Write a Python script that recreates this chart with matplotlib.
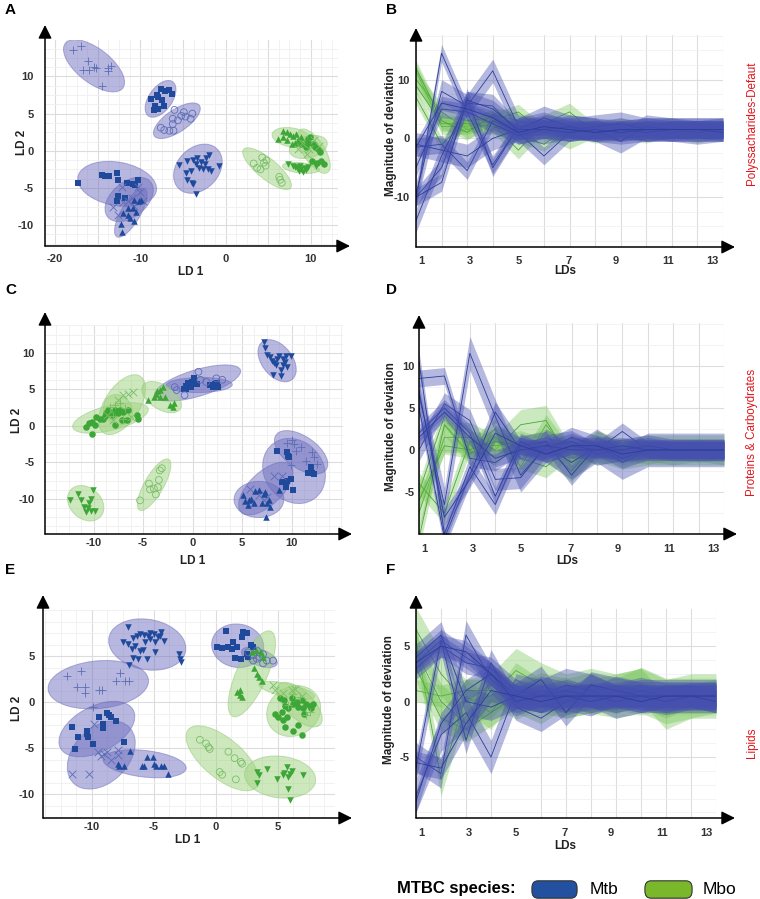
import numpy as np
import matplotlib.pyplot as plt
from matplotlib.patches import Ellipse, FancyBboxPatch
from matplotlib.ticker import MultipleLocator

plt.rcParams['font.family'] = ['Liberation Sans', 'DejaVu Sans']
plt.rcParams['axes.unicode_minus'] = False

# ---------------- scatter data (LD1, LD2) ----------------
# panel A - Polysaccharides
A_MTB_PLUS_X = [-17.9, -17.0, -16.2, -16.0, -16.7, -15.4, -15.2, -13.8, -13.8, -13.4, -14.5]
A_MTB_PLUS_Y = [13.5, 14.1, 12.1, 10.9, 10.9, 11.3, 11.1, 10.7, 11.1, 11.4, 8.7]
A_MTB_SQ1_X = [-8.8, -8.0, -7.6, -7.1, -6.6, -6.3, -7.9, -7.5, -8.3, -7.9, -7.2, -8.4]
A_MTB_SQ1_Y = [7.0, 7.5, 8.3, 8.1, 8.2, 7.6, 7.2, 6.8, 6.0, 5.6, 6.0, 5.5]
A_MTB_OC_X = [-7.6, -7.2, -6.6, -6.1, -6.2, -5.6, -5.2, -4.7, -4.1, -3.9, -6.0, -4.9, -6.2]
A_MTB_OC_Y = [3.1, 2.8, 2.7, 2.7, 3.6, 4.1, 4.7, 4.6, 4.3, 5.0, 5.5, 5.2, 4.3]
A_MTB_DN_X = [-5.5, -4.7, -4.5, -3.9, -3.8, -3.3, -2.9, -2.4, -1.9, -2.3, -3.1, -2.7, -2.1,
              -1.7, -0.8, -3.5, -4.1, -3.5, -4.5, -3.8]
A_MTB_DN_Y = [-1.9, -3.0, -3.9, -4.3, -1.3, -0.9, -1.5, -1.8, -0.5, -0.9, -2.3, -2.5, -2.5,
              -2.7, -2.0, -5.8, -2.7, -1.8, -1.4, -4.5]
A_MTB_SQ2_X = [-17.3, -14.5, -14.1, -13.7, -12.8, -12.6, -11.6, -10.9, -10.6, -10.3, -12.6, -11.8, -12.7]
A_MTB_SQ2_Y = [-4.3, -3.3, -3.4, -3.4, -3.0, -3.9, -4.3, -4.4, -4.6, -3.9, -6.1, -6.4, -6.8]
A_MTB_X_X = [-13.2, -12.2, -11.4, -10.7, -10.3, -10.1, -11.0, -12.0, -9.7, -12.6]
A_MTB_X_Y = [-7.5, -4.8, -6.8, -7.4, -4.8, -5.5, -6.3, -6.9, -6.8, -8.6]
A_MTB_UP_X = [-12.3, -12.2, -12.0, -11.5, -11.2, -10.9, -10.7, -10.2, -9.9, -10.7, -11.4, -10.5]
A_MTB_UP_Y = [-9.8, -10.9, -8.4, -8.6, -9.1, -7.7, -6.6, -6.8, -6.6, -9.5, -7.7, -8.2]
A_MBO_OC_X = [3.3, 4.3, 4.5, 4.7, 4.1, 3.7, 6.4, 6.6, 6.3, 4.8]
A_MBO_OC_Y = [-1.7, -0.9, -1.6, -2.0, -2.5, -2.3, -3.9, -4.3, -3.5, -1.3]
A_MBO_UP_X = [6.2, 6.7, 7.2, 7.6, 7.9, 8.3, 8.9, 7.2, 7.8, 8.5, 9.5, 6.8, 8.1]
A_MBO_UP_Y = [1.6, 2.7, 2.5, 2.3, 2.0, 2.3, 1.8, 1.4, 0.9, 1.4, 1.6, 1.8, 1.1]
A_MBO_DOT_X = [8.9, 9.5, 9.9, 10.5, 10.9, 11.1, 10.1, 10.7, 11.2, 11.6, 10.3, 9.7]
A_MBO_DOT_Y = [0.9, 0.5, 1.8, 0.5, 0.2, -0.2, -1.4, -1.6, -1.4, -1.8, 0.9, 1.1]
A_MBO_DN_X = [7.3, 7.9, 8.4, 8.7, 8.9, 9.3, 9.7, 8.6, 9.1, 8.1, 9.5, 10.6]
A_MBO_DN_Y = [-1.8, -2.0, -2.3, -2.0, -2.5, -2.3, -2.2, -2.7, -2.8, -2.2, -2.6, -2.1]
A_MBO_X_X = [9.0, 9.8, 10.4, 11.0, 8.5, 9.6]
A_MBO_X_Y = [1.0, 0.3, 1.4, 0.6, 0.2, -0.4]

# panel C - Proteins & Carbohydrates
C_MTB_DN_X = [7.2, 7.3, 7.5, 7.8, 8.0, 8.2, 8.5, 8.7, 9.1, 9.3, 9.5, 8.9, 8.4, 8.1, 8.9, 9.4, 9.9, 9.1]
C_MTB_DN_Y = [11.5, 10.6, 9.7, 9.4, 8.9, 8.6, 9.2, 9.6, 9.2, 8.7, 8.1, 7.6, 8.3, 6.9, 6.8, 9.5, 9.5, 8.3]
C_MTB_SQ1_X = [-0.9, -0.7, -0.5, -0.1, 0.1, 0.5, -0.2, -0.7, 1.8, 2.1, 2.5, 2.6, 2.3]
C_MTB_SQ1_Y = [5.1, 5.5, 5.8, 6.0, 6.6, 5.7, 5.3, 5.0, 5.6, 5.3, 5.8, 5.3, 5.7]
C_MTB_OC_X = [-1.8, -0.8, 0.6, 0.8, 2.4, 3.0, 1.4, -1.6]
C_MTB_OC_Y = [5.3, 4.2, 7.4, 6.3, 6.5, 6.3, 6.0, 4.9]
C_MTB_SQ2_X = [8.5, 9.5, 9.6, 9.7, 12.0, 12.1, 11.7, 12.3, 9.0, 9.5, 9.9, 10.1, 9.4]
C_MTB_SQ2_Y = [-3.5, -3.6, -4.1, -4.2, -5.6, -6.4, -6.5, -6.6, -7.7, -7.5, -7.3, -8.8, -8.4]
C_MTB_PLUS_X = [9.5, 10.0, 10.3, 11.0, 12.1, 12.3, 12.6, 9.9, 10.5, 11.5]
C_MTB_PLUS_Y = [-2.3, -2.0, -2.5, -2.9, -3.6, -4.2, -5.2, -5.3, -3.4, -4.8]
C_MTB_X_X = [5.8, 8.2, 9.0, 7.2, 7.5, 6.7]
C_MTB_X_Y = [-8.6, -6.8, -6.8, -10.2, -9.7, -9.4]
C_MTB_UP_X = [5.1, 5.3, 5.7, 5.9, 6.3, 6.7, 7.2, 7.3, 7.5, 7.8, 7.7, 7.0, 6.2, 8.7, 7.4, 5.6]
C_MTB_UP_Y = [-9.4, -10.3, -10.2, -10.0, -8.9, -8.8, -9.3, -9.0, -10.6, -11.1, -10.2, -10.6, -10.6,
              -8.8, -12.5, -10.9]
C_MBO_DOT_X = [-10.8, -10.5, -10.2, -9.8, -10.2, -9.7, -9.3, -8.8, -8.7, -8.1, -7.8, -7.5, -7.3,
               -7.0, -6.5, -7.1, -6.6, -5.6, -5.5, -7.8, -9.0, -8.5]
C_MBO_DOT_Y = [-0.1, 0.4, 0.5, 0.1, -1.1, 1.2, 1.0, 1.3, 1.7, 1.5, 0.1, 1.7, 2.1, 1.9, 2.2, 0.8,
               0.8, 1.5, 1.0, 2.1, 1.0, 2.1]
C_MBO_X_X = [-7.0, -6.5, -6.0, -7.5, -8.6, -8.0, -6.2]
C_MBO_X_Y = [4.2, 4.4, 4.7, 3.5, 1.5, 0.8, 1.2]
C_MBO_PLUS_X = [-8.3, -7.8, -7.3, -6.8, -7.0, -8.0]
C_MBO_PLUS_Y = [2.6, 2.8, 3.1, 2.4, 1.0, 1.3]
C_MBO_UP_X = [-4.5, -3.9, -3.7, -3.3, -3.0, -3.3, -2.8, -2.3, -2.0, -1.9, -3.6]
C_MBO_UP_Y = [3.5, 4.0, 4.3, 4.9, 5.3, 4.0, 3.9, 2.8, 2.6, 3.1, 4.8]
C_MBO_OC_X = [-5.3, -4.4, -4.3, -3.9, -3.5, -3.4, -3.3, -3.1, -3.7]
C_MBO_OC_Y = [-10.2, -7.9, -8.7, -8.6, -8.4, -7.4, -6.1, -5.8, -9.4]
C_MBO_DN_X = [-12.4, -11.6, -11.3, -11.0, -10.8, -10.5, -10.3, -10.1, -9.8, -10.3, -10.6]
C_MBO_DN_Y = [-10.2, -9.3, -10.2, -11.1, -11.8, -10.6, -10.0, -8.8, -11.6, -11.6, -11.3]

# panel E - Lipids
E_MTB_DN_X = [-7.1, -7.5, -7.1, -6.7, -6.4, -6.1, -5.8, -5.5, -5.3, -5.0, -4.7, -4.5, -4.4, -4.2, -4.9,
              -5.7, -6.5, -6.8, -6.1, -5.9, -6.7, -6.3, -7.0, -5.6, -4.9, -3.0, -2.9, -2.8, -5.3]
E_MTB_DN_Y = [8.1, 6.5, 6.3, 7.0, 7.2, 7.4, 7.3, 7.2, 7.5, 7.4, 7.1, 7.2, 7.6, 6.6, 6.5,
              6.5, 6.1, 5.8, 5.5, 5.7, 4.8, 4.7, 4.0, 4.7, 5.4, 5.2, 4.7, 4.3, 6.9]
E_MTB_PLUS_X = [-12.0, -10.9, -11.2, -10.6, -10.6, -9.4, -9.2, -8.1, -7.7, -7.3, -7.0, -9.9]
E_MTB_PLUS_Y = [2.8, 3.4, 1.6, 1.6, 1.0, 1.3, 1.3, 2.3, 3.2, 2.3, 2.3, -0.5]
E_MTB_SQ1_X = [-11.6, -11.1, -11.4, -10.4, -10.3, -9.9, -9.4, -9.1, -9.1, -8.8, -8.6, -8.1, -8.5, -7.4, -10.4]
E_MTB_SQ1_Y = [-2.7, -3.8, -5.1, -3.2, -3.8, -4.6, -1.6, -2.4, -2.8, -1.2, -1.4, -2.1, -1.6, -4.3, -3.5]
E_MTB_X_X = [-11.6, -10.2, -9.8, -9.5, -9.3, -9.0, -8.8, -8.5, -7.9, -7.9]
E_MTB_X_Y = [-7.8, -7.8, -2.4, -5.4, -5.9, -5.6, -5.4, -6.3, -5.2, -5.8]
E_MTB_UP_X = [-7.9, -7.8, -7.4, -6.9, -6.0, -5.8, -5.6, -5.1, -5.0, -4.8, -4.4, -4.2, -3.9]
E_MTB_UP_Y = [-6.7, -7.0, -6.9, -5.3, -6.9, -7.0, -6.0, -6.0, -6.7, -7.0, -7.0, -6.9, -7.8]
E_MTB_SQ2_X = [0.1, 0.5, 0.8, 1.0, 1.3, 1.4, 1.5, 1.7, 2.0, 2.1, 2.2, 2.5, 2.8, 3.0, 2.5, 2.6]
E_MTB_SQ2_Y = [6.0, 5.9, 7.7, 6.0, 5.8, 6.5, 4.8, 6.0, 4.7, 7.1, 7.6, 7.5, 6.2, 6.0, 5.2, 4.9]
E_MTB_OC_X = [2.6, 3.0, 3.3, 3.5, 3.8, 4.1, 4.6, 3.3, 3.8, 3.0]
E_MTB_OC_Y = [5.4, 5.1, 4.7, 4.9, 5.2, 4.5, 4.5, 5.6, 4.2, 4.5]
E_MBO_UP_X = [1.7, 1.9, 2.1, 1.9, 3.1, 3.3, 3.5, 3.7, 3.2, 3.6, 3.8, 2.9]
E_MBO_UP_Y = [1.1, 0.8, 0.6, 1.3, 3.7, 3.0, 2.7, 2.3, 5.6, 5.4, 4.9, 5.4]
E_MBO_DOT_X = [5.2, 5.5, 5.6, 5.8, 6.1, 6.2, 6.5, 6.6, 6.9, 7.0, 7.3, 7.6, 7.8, 7.7, 4.8, 5.0, 5.3,
               5.4, 5.6, 6.2, 6.6, 6.9, 5.7, 7.1]
E_MBO_DOT_Y = [0.4, 0.2, -0.4, -0.7, 0.4, -0.2, 0.0, -0.5, 0.2, -0.7, -0.2, -0.4, -0.2, -0.6, -1.3,
               -1.6, -1.1, -2.0, -2.7, -3.1, -2.5, -3.6, -1.6, -1.3]
E_MBO_X_X = [4.6, 4.8, 5.4, 6.1, 6.4, 6.9]
E_MBO_X_Y = [1.9, 1.3, 1.0, 1.3, 1.4, 0.7]
E_MBO_PLUS_X = [6.2, 6.8, 7.3, 7.6, 5.8]
E_MBO_PLUS_Y = [0.9, 0.5, -1.4, -1.1, -0.3]
E_MBO_OC_X = [-1.3, -0.8, -0.6, -0.5, 1.0, 1.5, 2.0, 2.1, 0.3, 0.5, 1.6]
E_MBO_OC_Y = [-4.1, -4.5, -4.9, -5.1, -5.4, -6.1, -6.5, -6.7, -7.6, -7.9, -8.4]
E_MBO_DN_X = [3.3, 3.5, 4.1, 3.3, 4.9, 5.4, 5.5, 5.7, 5.8, 6.0, 6.1, 5.8, 6.0, 7.0]
E_MBO_DN_Y = [-7.6, -7.9, -7.3, -8.8, -8.4, -7.9, -7.7, -7.1, -8.1, -7.8, -7.5, -9.5, -10.6, -7.9]

# ---------------- deviation profiles over LDs ----------------
LD = list(range(1, 14))
LD_TICKS = [1.22, 3.12, 5.0, 6.95, 8.8, 10.85, 12.6]
LD_LABELS = ['1', '3', '5', '7', '9', '11', '13']

B_MTB = [
    [-10.5, 14.5, 4.5, -4.5, 2.0, 3.0, 1.5, 1.5, 2.0, 1.0, 1.5, 1.5, 1.5],
    [-9.5, 8.0, 5.5, 11.5, 2.0, 1.0, 2.0, 1.5, 1.0, 1.5, 1.5, 1.5, 1.5],
    [-10.0, -5.0, 7.0, -5.0, 2.0, 2.0, 1.5, 1.0, 1.5, 2.0, 1.5, 1.5, 1.5],
    [-1.5, -1.0, -5.5, 3.0, 1.0, -3.0, 1.0, 1.5, 1.0, 1.5, 1.0, 1.5, 1.5],
    [-1.0, -2.0, -3.0, 0.0, 1.5, 3.5, 2.0, 1.5, -0.5, 2.0, 1.5, 1.0, 1.5],
    [-14.0, -3.0, 6.0, 5.5, 1.0, 2.0, 1.5, 2.0, 2.5, 1.5, 1.5, 1.5, 1.5],
    [-5.0, 5.0, 4.5, 2.5, 0.5, 1.5, 2.0, 1.0, 1.5, 1.0, 1.5, 1.5, 1.5],
    [-10.0, -7.5, 6.5, 5.0, 1.5, 1.5, 1.0, 1.5, 1.0, 1.5, 1.5, 1.5, 1.0],
    [-1.5, 6.0, 5.0, 3.5, 1.0, 2.0, 1.5, 1.0, 1.5, 1.5, 1.5, 1.5, 1.5],
]
B_MTB_W = [1.5, 2.0, 1.5, 1.5, 2.0, 2.0, 1.5, 1.5, 1.2]
B_MBO = [
    [11.5, 2.0, 2.0, 3.0, 4.5, 1.0, 1.0, 2.0, 1.5, 1.0, 1.5, 1.5, 1.5],
    [10.0, 4.5, 1.5, 2.5, -2.0, 2.5, 4.5, 1.0, 2.0, 1.5, 2.0, 1.0, 1.5],
    [7.0, -1.0, 3.0, 3.5, 0.5, -1.0, 2.0, 1.5, 1.0, 2.0, 1.0, 1.5, 1.5],
    [9.0, 2.5, 2.5, 2.0, 1.0, 1.5, -0.5, 1.5, 1.5, 0.5, 1.5, 1.5, 1.0],
    [12.0, 3.0, 1.0, 4.0, 3.0, 2.0, 1.5, 0.5, 1.0, 1.5, 1.5, 0.5, 1.5],
]
B_MBO_W = [1.3, 1.5, 1.2, 1.3, 1.3]

D_MTB = [
    [8.5, 8.8, -1.0, -1.5, 0.5, 0.0, 1.0, 0.0, 2.2, 0.0, 0.0, 0.0, 0.0],
    [6.5, -6.5, 11.5, 4.0, -3.0, 0.5, -1.5, 0.5, -1.5, 0.0, 0.0, 0.0, 0.0],
    [5.0, -10.5, -3.0, 4.5, 0.0, 0.0, 1.5, 0.5, 0.0, 0.0, 0.0, 0.0, 0.0],
    [0.0, 5.5, 3.5, -3.5, -3.3, 0.5, 1.0, -0.5, 0.0, 0.5, 0.0, 0.0, 0.0],
    [10.5, -10.0, -2.0, -6.5, 0.5, 1.0, -3.0, 0.5, -1.0, 0.0, 0.0, 0.0, 0.0],
    [2.0, 5.0, 2.0, -5.5, 1.0, -0.5, 0.5, 0.0, 0.0, 0.5, 0.0, 0.0, 0.0],
    [1.5, 4.5, 1.5, -1.0, 0.0, 0.5, 0.0, 0.0, 0.5, 0.0, 0.0, 0.0, 0.0],
    [7.0, -8.0, -3.5, 2.0, 0.5, -0.5, 0.5, 0.5, -0.5, 0.0, 0.0, 0.0, 0.0],
]
D_MTB_W = [1.0, 2.0, 1.2, 1.3, 1.2, 1.0, 1.0, 1.0]
D_MBO = [
    [-5.0, 4.0, 0.0, 2.5, -2.0, 3.0, -1.0, 0.0, 0.0, -0.5, 0.0, 0.0, 0.0],
    [-7.5, 1.5, 1.5, 0.0, 3.0, 3.5, -1.5, 0.5, -0.5, 0.0, 0.0, 0.0, 0.0],
    [-10.5, 3.0, -0.5, 1.5, -1.0, -2.0, 0.5, -0.5, 0.0, 0.0, -0.5, 0.0, -0.5],
    [-4.0, -7.5, 1.0, 0.5, 1.0, 0.0, -2.5, 1.0, -0.5, 0.0, 0.0, 0.0, 0.0],
    [-6.0, 0.5, 0.0, 1.0, 0.5, 1.5, 0.0, 0.5, 0.0, 0.0, 0.0, -0.5, 0.0],
]
D_MBO_W = [1.2, 1.8, 1.3, 1.3, 1.0]

F_MTB = [
    [3.5, 5.5, 4.0, 2.5, 0.5, 0.0, 0.5, 0.5, 0.5, 0.5, 0.5, 0.5, 0.5],
    [3.0, 5.0, 3.5, 3.0, 1.0, 0.5, 0.0, 1.5, 0.5, 0.0, 0.5, 0.5, 0.5],
    [-5.0, -6.5, 6.0, 2.0, 0.0, 1.0, 0.5, 0.0, 1.0, 0.5, 0.5, 0.5, 0.5],
    [-8.5, -3.0, -1.0, -5.0, 1.0, 0.5, 1.5, 1.0, 0.0, 0.5, 0.5, 0.5, 0.5],
    [-6.0, 5.5, -3.5, 3.5, -0.5, -1.5, 0.0, 0.5, 0.5, 1.0, 0.5, 0.5, 0.5],
    [-9.0, -2.0, 1.0, 2.5, 0.5, 0.5, 1.0, 0.5, 0.0, 0.5, 0.0, 0.5, 0.0],
    [4.0, 6.0, 0.0, -0.5, 0.5, 2.0, -1.0, 1.5, 1.0, 0.5, 0.0, 0.5, 0.5],
    [3.5, 5.0, 4.5, 2.5, 0.0, 0.5, 0.5, 0.0, 0.5, 0.5, 0.5, 0.5, 0.0],
    [-5.5, -6.0, -2.0, 1.0, 0.5, 0.0, 0.5, 0.5, 0.5, 0.0, 0.5, 0.5, 0.5],
]
F_MTB_W = [1.0, 1.0, 1.3, 1.5, 1.2, 1.0, 1.2, 1.0, 1.0]
F_MBO = [
    [6.5, 2.5, 0.0, 0.5, 2.8, 1.5, 0.5, 1.0, 0.5, 1.0, 0.0, 0.5, 0.5],
    [5.5, -7.0, 0.5, -1.0, 2.0, 0.5, 0.0, 0.5, 1.0, 1.5, -1.0, 0.0, 0.5],
    [1.0, 0.5, 1.0, 1.0, 0.0, -1.0, 0.5, 0.5, 0.0, 0.5, -0.5, 0.5, 0.0],
    [3.0, -1.5, -2.5, -1.0, 0.5, 0.5, 1.0, 0.0, 0.5, 0.0, 0.5, 0.5, 0.5],
    [4.5, 0.0, -2.0, 1.5, 0.0, 1.0, 0.5, 1.0, 0.5, 1.5, 0.5, 0.5, 0.5],
]
F_MBO_W = [2.0, 1.5, 1.0, 1.2, 1.6]

# ---------------- style ----------------
MTB_DARK, MTB_LIGHT, MTB_FILL, MTB_EDGE = '#1f4a9c', '#5b6db5', '#7070c0', '#6a6ab8'
MBO_DARK, MBO_LIGHT, MBO_FILL, MBO_EDGE = '#3ca636', '#78bf66', '#9fd27f', '#8cc870'
BAND_MTB, LINE_MTB = '#4650b0', '#2b3d99'
BAND_MBO, LINE_MBO = '#6cc04a', '#4aa53a'
RED = '#e3141b'
W, H = 760, 899

fig = plt.figure(figsize=(7.6, 8.99), dpi=100)


def add_axes(l, t, r, b):
    return fig.add_axes([l / W, 1 - b / H, (r - l) / W, (b - t) / H])


def arrows(ax, box, x_end, y_end):
    l, t, r, b = box
    kw = dict(xycoords='axes fraction', annotation_clip=False,
              arrowprops=dict(arrowstyle='-|>,head_length=0.9,head_width=0.45', color='black',
                              lw=1.1, shrinkA=0, shrinkB=0, mutation_scale=9))
    ax.annotate('', xy=((x_end - l) / (r - l), 0), xytext=(0, 0), **kw)
    ax.annotate('', xy=(0, (b - y_end) / (b - t)), xytext=(0, 0), **kw)


def base_style(ax, xpad, ypad):
    for s in ax.spines.values():
        s.set_visible(False)
    ax.tick_params(which='both', length=0, labelsize=8, labelcolor='#333333')
    ax.tick_params(axis='x', pad=xpad)
    ax.tick_params(axis='y', pad=ypad)
    for lab in ax.get_xticklabels() + ax.get_yticklabels():
        lab.set_fontweight('bold')
    ax.set_axisbelow(True)


def conf_ellipse(ax, xs, ys, fill, edge, n_std=2.45):
    x = np.asarray(xs)
    y = np.asarray(ys)
    vals, vecs = np.linalg.eigh(np.cov(x, y))
    angle = np.degrees(np.arctan2(vecs[1, 1], vecs[0, 1]))
    ax.add_patch(Ellipse((x.mean(), y.mean()), 2 * n_std * np.sqrt(vals[1]),
                         2 * n_std * np.sqrt(vals[0]), angle=angle, facecolor=fill,
                         edgecolor=edge, alpha=0.5, lw=0.7, zorder=1))


def scatter_panel(box, x_end, y_end, xlim, ylim, xticks, xlabels, yticks, pads, clusters):
    ax = add_axes(*box)
    ax.set_xlim(*xlim)
    ax.set_ylim(*ylim)
    for sp, mk, xs, ys in clusters:
        if sp == 'mtb':
            conf_ellipse(ax, xs, ys, MTB_FILL, MTB_EDGE)
        else:
            conf_ellipse(ax, xs, ys, MBO_FILL, MBO_EDGE)
    for sp, mk, xs, ys in clusters:
        dark, light = (MTB_DARK, MTB_LIGHT) if sp == 'mtb' else (MBO_DARK, MBO_LIGHT)
        if mk == 'oc':
            ax.scatter(xs, ys, s=24, marker='o', facecolors='none', edgecolors=light,
                       linewidths=0.6, zorder=3)
        elif mk in ('+', 'x'):
            ax.scatter(xs, ys, s=30, marker=mk, color=light, linewidths=0.6, zorder=3)
        else:
            ax.scatter(xs, ys, s=22, marker=mk, color=dark, linewidths=0, zorder=3)
    ax.set_xticks(xticks)
    ax.set_xticklabels(xlabels)
    ax.set_yticks(yticks)
    ax.xaxis.set_minor_locator(MultipleLocator(1.25))
    ax.yaxis.set_minor_locator(MultipleLocator(1.25))
    ax.grid(which='major', color='#dcdcdc', lw=0.8)
    ax.grid(which='minor', color='#efefef', lw=0.6)
    base_style(ax, *pads)
    arrows(ax, box, x_end, y_end)
    return ax


def line_panel(box, x_end, y_end, ylim, yticks, ystep, pads, mbo, mbo_w, mtb, mtb_w):
    ax = add_axes(*box)
    ax.set_xlim(1, 13)
    ax.set_ylim(*ylim)
    for vals, w in zip(mbo, mbo_w):
        v = np.asarray(vals)
        ax.fill_between(LD, v - w, v + w, color=BAND_MBO, alpha=0.35, lw=0, zorder=2)
        ax.plot(LD, v, color=LINE_MBO, lw=0.6, zorder=2)
    for vals, w in zip(mtb, mtb_w):
        v = np.asarray(vals)
        ax.fill_between(LD, v - w, v + w, color=BAND_MTB, alpha=0.4, lw=0, zorder=3)
        ax.plot(LD, v, color=LINE_MTB, lw=0.6, zorder=3)
    ax.set_xticks(LD_TICKS)
    ax.set_xticklabels(LD_LABELS)
    ax.set_xticks(LD, minor=True)
    ax.set_yticks(yticks)
    ax.yaxis.set_minor_locator(MultipleLocator(ystep))
    ax.xaxis.grid(True, which='minor', color='#dddddd', lw=0.8)
    ax.yaxis.grid(True, which='major', color='#dddddd', lw=0.8)
    ax.yaxis.grid(True, which='minor', color='#eeeeee', lw=0.5)
    base_style(ax, *pads)
    arrows(ax, box, x_end, y_end)
    return ax


panel_a = [
    ('mtb', '+', A_MTB_PLUS_X, A_MTB_PLUS_Y), ('mtb', 's', A_MTB_SQ1_X, A_MTB_SQ1_Y),
    ('mtb', 'oc', A_MTB_OC_X, A_MTB_OC_Y), ('mtb', 'v', A_MTB_DN_X, A_MTB_DN_Y),
    ('mtb', 's', A_MTB_SQ2_X, A_MTB_SQ2_Y), ('mtb', 'x', A_MTB_X_X, A_MTB_X_Y),
    ('mtb', '^', A_MTB_UP_X, A_MTB_UP_Y), ('mbo', 'oc', A_MBO_OC_X, A_MBO_OC_Y),
    ('mbo', '^', A_MBO_UP_X, A_MBO_UP_Y), ('mbo', 'o', A_MBO_DOT_X, A_MBO_DOT_Y),
    ('mbo', 'v', A_MBO_DN_X, A_MBO_DN_Y), ('mbo', 'x', A_MBO_X_X, A_MBO_X_Y),
]
panel_c = [
    ('mtb', 'v', C_MTB_DN_X, C_MTB_DN_Y), ('mtb', 's', C_MTB_SQ1_X, C_MTB_SQ1_Y),
    ('mtb', 'oc', C_MTB_OC_X, C_MTB_OC_Y), ('mtb', 's', C_MTB_SQ2_X, C_MTB_SQ2_Y),
    ('mtb', '+', C_MTB_PLUS_X, C_MTB_PLUS_Y), ('mtb', 'x', C_MTB_X_X, C_MTB_X_Y),
    ('mtb', '^', C_MTB_UP_X, C_MTB_UP_Y), ('mbo', 'o', C_MBO_DOT_X, C_MBO_DOT_Y),
    ('mbo', 'x', C_MBO_X_X, C_MBO_X_Y), ('mbo', '+', C_MBO_PLUS_X, C_MBO_PLUS_Y),
    ('mbo', '^', C_MBO_UP_X, C_MBO_UP_Y), ('mbo', 'oc', C_MBO_OC_X, C_MBO_OC_Y),
    ('mbo', 'v', C_MBO_DN_X, C_MBO_DN_Y),
]
panel_e = [
    ('mtb', 'v', E_MTB_DN_X, E_MTB_DN_Y), ('mtb', '+', E_MTB_PLUS_X, E_MTB_PLUS_Y),
    ('mtb', 's', E_MTB_SQ1_X, E_MTB_SQ1_Y), ('mtb', 'x', E_MTB_X_X, E_MTB_X_Y),
    ('mtb', '^', E_MTB_UP_X, E_MTB_UP_Y), ('mtb', 's', E_MTB_SQ2_X, E_MTB_SQ2_Y),
    ('mtb', 'oc', E_MTB_OC_X, E_MTB_OC_Y), ('mbo', '^', E_MBO_UP_X, E_MBO_UP_Y),
    ('mbo', 'o', E_MBO_DOT_X, E_MBO_DOT_Y), ('mbo', 'x', E_MBO_X_X, E_MBO_X_Y),
    ('mbo', '+', E_MBO_PLUS_X, E_MBO_PLUS_Y), ('mbo', 'oc', E_MBO_OC_X, E_MBO_OC_Y),
    ('mbo', 'v', E_MBO_DN_X, E_MBO_DN_Y),
]

scatter_panel((45, 40, 338, 246), 350, 25, (-21.2, 13.2), (-12.8, 14.9),
              [-20, -15, -10, -5, 0, 5, 10], ['-20', '', '-10', '', '0', '', '10'],
              [-10, -5, 0, 5, 10], (5.5, 8), panel_a)
scatter_panel((45, 325, 343, 534), 352, 312, (-14.9, 15.2), (-14.8, 13.8),
              [-10, -5, 0, 5, 10], ['-10', '-5', '0', '5', '10'],
              [-10, -5, 0, 5, 10], (2.7, 7.5), panel_c)
scatter_panel((43, 610, 335, 818), 352, 595, (-13.95, 9.6), (-12.6, 10.0),
              [-10, -5, 0, 5], ['-10', '-5', '0', '5'],
              [-10, -5, 0, 5], (2.7, 6), panel_e)

line_panel((416, 35, 723, 247), 735, 28, (-18.5, 17.6), [-10, 0, 10], 2.5, (6.3, 4.3),
           B_MBO, B_MBO_W, B_MTB, B_MTB_W)
line_panel((419, 323, 724, 534), 737, 315, (-10.0, 15.1), [-5, 0, 5, 10], 2.5, (7, 3),
           D_MBO, D_MBO_W, D_MTB, D_MTB_W)
line_panel((416, 609, 716, 818), 735, 595, (-10.5, 8.35), [-5, 0, 5], 1.25, (7, 4.3),
           F_MBO, F_MBO_W, F_MTB, F_MTB_W)


def ftext(x, y, s, **kw):
    fig.text(x / W, 1 - y / H, s, **kw)


for letter, (x, y) in zip('ABCDEF', [(5, 3), (386, 3), (5, 283), (386, 283), (5, 563), (386, 563)]):
    ftext(x, y, letter, fontsize=11, fontweight='bold', ha='left', va='top')

lab = dict(fontsize=8.5, fontweight='bold', ha='center', va='center', color='#222222')
for x, y in [(191, 272), (193, 561), (188, 840)]:
    ftext(x, y, 'LD 1', **lab)
for x, y in [(22, 142), (17, 420), (17, 708)]:
    ftext(x, y, 'LD 2', rotation=90, **lab)
for x, y in [(565, 271), (567, 561), (565, 846)]:
    ftext(x, y, 'LDs', **lab)
for x, y in [(391, 132), (391, 427), (389, 700)]:
    ftext(x, y, 'Magnitude of deviation', rotation=90, **lab)

for (x, y), s in zip([(752, 123), (752, 432), (752, 743)],
                     ['Polyssacharides-Defaut', 'Proteins & Carboydrates', 'Lipids']):
    ftext(x, y, s, rotation=90, color=RED, fontsize=8.4, ha='center', va='center')

# legend
ftext(397, 889, 'MTBC species:', fontsize=12, fontweight='bold', ha='left', va='center')
for (l, r), col, name, tx in [((532, 577), '#2450a0', 'Mtb', 590), ((645, 692), '#78b82a', 'Mbo', 703)]:
    fig.patches.append(FancyBboxPatch(((l + 6) / W, 1 - 891 / H), (r - l - 12) / W, 3 / H,
                                      boxstyle='round,pad=0.008', transform=fig.transFigure,
                                      facecolor=col, edgecolor='#333333', lw=0.8))
    ftext(tx, 890, name, fontsize=12.5, ha='left', va='center')

fig.savefig('out.png', dpi=100)
